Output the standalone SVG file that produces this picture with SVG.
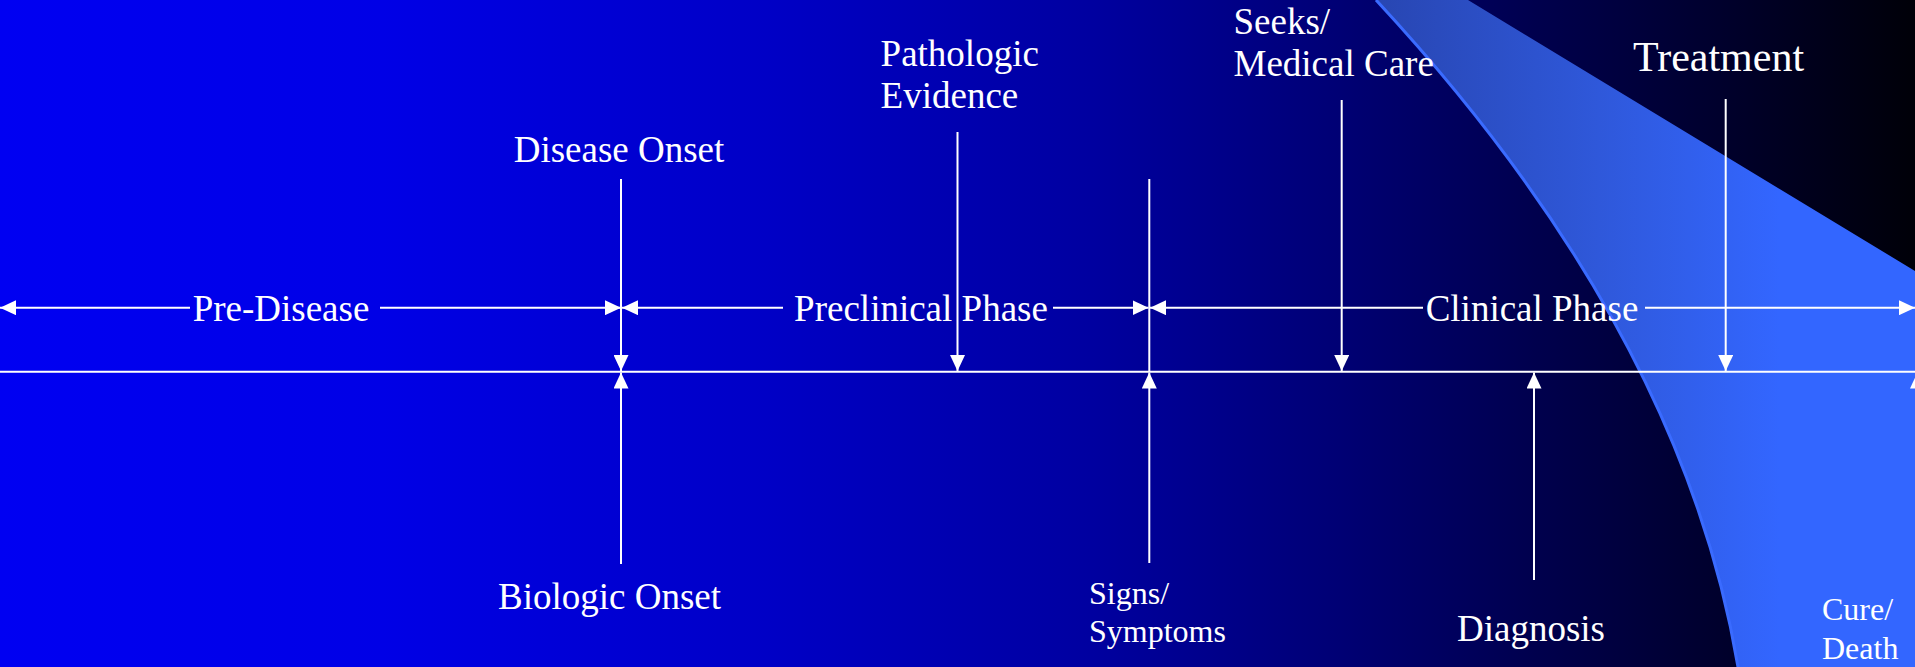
<svg xmlns="http://www.w3.org/2000/svg" width="1915" height="667" viewBox="0 0 1915 667">
<defs>
<linearGradient id="bg" x1="0" y1="0" x2="1915" y2="0" gradientUnits="userSpaceOnUse">
<stop offset="0" stop-color="#0000F2"/>
<stop offset="0.2" stop-color="#0000E6"/>
<stop offset="0.4" stop-color="#0000C6"/>
<stop offset="0.57" stop-color="#0000A0"/>
<stop offset="0.7" stop-color="#000074"/>
<stop offset="0.8" stop-color="#00004E"/>
<stop offset="0.9" stop-color="#00002C"/>
<stop offset="1" stop-color="#000008"/>
</linearGradient>
<linearGradient id="sw" x1="1376" y1="0" x2="1780" y2="0" gradientUnits="userSpaceOnUse">
<stop offset="0" stop-color="#2846B2"/>
<stop offset="0.55" stop-color="#2F58DA"/>
<stop offset="1" stop-color="#3366FF"/>
</linearGradient>
<marker id="ah" viewBox="0 0 16 15" refX="16" refY="7.5" markerWidth="16" markerHeight="15" markerUnits="userSpaceOnUse" orient="auto">
<path d="M0,0 L16,7.5 L0,15 Z" fill="#FFFFFF"/>
</marker>
<style>
.ln{stroke:#FFFFFF;stroke-width:2;fill:none}
.ar{stroke:#FFFFFF;stroke-width:2;fill:none;marker-end:url(#ah)}
.t{fill:#FFFFFF;font-family:"Liberation Serif","Times New Roman",serif;font-size:37px}
.s{font-size:32px}
.b{font-size:42px}
.m{text-anchor:middle}
</style>
</defs>
<rect x="0" y="0" width="1915" height="667" fill="url(#bg)"/>
<g id="swoosh">
<path d="M1376,0 L1468,0 L1915,271 L1915,667 L1738,667 Q1682,330 1376,0 Z" fill="url(#sw)"/>
<path d="M1376,0 Q1682,330 1738,667" fill="none" stroke="#3A6BFF" stroke-width="3"/>
</g>
<g id="connectors">
<line class="ln" x1="0" y1="371.7" x2="1915" y2="371.7"/>
<line class="ar" x1="190" y1="307.7" x2="0" y2="307.7"/>
<line class="ar" x1="380" y1="307.7" x2="621" y2="307.7"/>
<line class="ar" x1="783" y1="307.7" x2="622" y2="307.7"/>
<line class="ar" x1="1053" y1="307.7" x2="1148.5" y2="307.7"/>
<line class="ar" x1="1423" y1="307.7" x2="1150" y2="307.7"/>
<line class="ar" x1="1645" y1="307.7" x2="1915" y2="307.7"/>
<line class="ar" x1="621" y1="179" x2="621" y2="371"/>
<line class="ar" x1="621" y1="564" x2="621" y2="372.5"/>
<line class="ar" x1="957.5" y1="132" x2="957.5" y2="371"/>
<line class="ln" x1="1149.3" y1="179" x2="1149.3" y2="371.7"/>
<line class="ar" x1="1149.3" y1="563" x2="1149.3" y2="372.5"/>
<line class="ar" x1="1341.7" y1="100" x2="1341.7" y2="371"/>
<line class="ar" x1="1534" y1="580" x2="1534" y2="372.5"/>
<line class="ar" x1="1725.7" y1="99" x2="1725.7" y2="371"/>
<line class="ar" x1="1917.5" y1="580" x2="1917.5" y2="372.5"/>
</g>
<g id="pre-disease"><text class="t m" x="281" y="321">Pre-Disease</text></g>
<g id="preclinical-phase"><text class="t m" x="921" y="321">Preclinical Phase</text></g>
<g id="clinical-phase"><text class="t m" x="1532" y="321">Clinical Phase</text></g>
<g id="disease-onset"><text class="t m" x="619" y="162">Disease Onset</text></g>
<g id="biologic-onset"><text class="t m" x="609.5" y="609">Biologic Onset</text></g>
<g id="pathologic-evidence"><text class="t" x="880.6" y="66">Pathologic</text><text class="t" x="880.6" y="107.5">Evidence</text></g>
<g id="seeks-medical-care"><text class="t" x="1233.5" y="34">Seeks/</text><text class="t" x="1233.5" y="76">Medical Care</text></g>
<g id="treatment"><text class="t b" x="1633" y="71">Treatment</text></g>
<g id="signs-symptoms"><text class="t s" x="1089" y="604">Signs/</text><text class="t s" x="1089" y="642">Symptoms</text></g>
<g id="diagnosis"><text class="t m" x="1531" y="641">Diagnosis</text></g>
<g id="cure-death"><text class="t s" x="1822" y="620">Cure/</text><text class="t s" x="1822" y="659">Death</text></g>
</svg>
